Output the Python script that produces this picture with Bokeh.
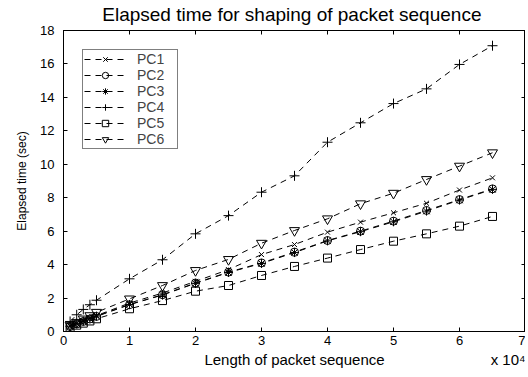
from bokeh.plotting import figure
from bokeh.models import (Range1d, FixedTicker, LinearAxis, Legend, LegendItem)
from bokeh.embed import file_html
from bokeh.resources import INLINE

# ---- data ----
lengths = [1000, 2000, 3000, 4000, 5000, 10000, 15000, 20000, 25000, 30000,
           35000, 40000, 45000, 50000, 55000, 60000, 65000]
pc1 = [0.35, 0.50, 0.65, 0.80, 0.95, 1.70, 2.30, 3.00, 3.70, 4.60, 5.20, 5.94, 6.54, 7.10, 7.67, 8.46, 9.19]
pc2 = [0.30, 0.45, 0.60, 0.75, 0.90, 1.60, 2.20, 2.90, 3.55, 4.10, 4.75, 5.44, 6.00, 6.60, 7.24, 7.89, 8.53]
pc3 = [0.32, 0.47, 0.62, 0.77, 0.92, 1.62, 2.18, 2.88, 3.53, 4.07, 4.72, 5.42, 5.97, 6.56, 7.20, 7.86, 8.50]
pc4 = [0.60, 1.00, 1.32, 1.60, 1.87, 3.15, 4.29, 5.84, 6.93, 8.33, 9.31, 11.32, 12.48, 13.63, 14.51, 15.97, 17.09]
pc5 = [0.25, 0.38, 0.50, 0.63, 0.76, 1.36, 1.85, 2.41, 2.75, 3.35, 3.89, 4.39, 4.90, 5.40, 5.84, 6.30, 6.88]
pc6 = [0.38, 0.55, 0.75, 0.95, 1.15, 1.95, 2.75, 3.65, 4.31, 5.28, 6.04, 6.74, 7.64, 8.27, 9.09, 9.89, 10.69]

series_names = ["PC1", "PC2", "PC3", "PC4", "PC5", "PC6"]
series_values = [pc1, pc2, pc3, pc4, pc5, pc6]
markers = ["x", "circle", "asterisk", "cross", "square", "inverted_triangle"]
marker_sizes = [7, 8, 9, 10, 8, 10]

x_ticks = [0, 10000, 20000, 30000, 40000, 50000, 60000, 70000]
x_tick_labels = ["0", "1", "2", "3", "4", "5", "6", "7"]
y_ticks = [0, 2, 4, 6, 8, 10, 12, 14, 16, 18]

title_text = "Elapsed time for shaping of packet  sequence"
x_label = "Length of packet sequence"
y_label = "Elapsed time (sec)"
exp_label = "x 10\u2074"
# where the axis-label line texts sit along the x axis
x_label_pos = 35000
exp_label_pos = 67700

FONT = "Liberation Sans"

p = figure(frame_width=462, frame_height=301, output_backend="svg",
           toolbar_location=None, x_range=Range1d(0, 70000), y_range=Range1d(0, 18),
           min_border_left=63, min_border_top=30, min_border_bottom=46, min_border_right=0)
p.background_fill_color = "white"
p.border_fill_color = "white"
p.outline_line_color = "black"
p.outline_line_width = 1
p.grid.visible = False

p.title.text = title_text
p.title.align = "center"
p.title.vertical_align = "top"
p.title.text_line_height = 1.0
p.title.text_font = FONT
p.title.text_font_size = "19px"
p.title.text_font_style = "normal"
p.title.text_color = "black"
p.title.standoff = 7
p.title.offset = 0

xt = FixedTicker(ticks=x_ticks)
yt = FixedTicker(ticks=y_ticks)

p.xaxis.ticker = xt
p.xaxis.major_label_overrides = {t: l for t, l in zip(x_ticks, x_tick_labels)}
p.yaxis.ticker = yt
for ax in (p.xaxis[0], p.yaxis[0]):
    ax.major_tick_in = 4
    ax.major_tick_out = 0
    ax.minor_tick_line_color = None
    ax.axis_line_color = "black"
    ax.major_tick_line_color = "black"
    ax.major_label_text_font = FONT
    ax.major_label_text_font_size = "13px"
    ax.major_label_text_color = "black"
    ax.axis_label_text_font = FONT
    ax.axis_label_text_font_style = "normal"
    ax.axis_label_text_color = "black"

p.xaxis.major_label_standoff = 4
p.yaxis.axis_label = y_label
p.yaxis.axis_label_text_font_size = "12px"
p.yaxis.major_label_standoff = 9
p.yaxis.axis_label_standoff = 8

# second line under the x axis: axis title and the x 10^4 multiplier
lab_ticks = [x_label_pos, exp_label_pos]
lab_axis = LinearAxis(ticker=FixedTicker(ticks=lab_ticks),
                      major_label_overrides={x_label_pos: x_label, exp_label_pos: exp_label},
                      major_tick_line_color=None, minor_tick_line_color=None,
                      axis_line_color=None, major_label_standoff=-3,
                      major_label_text_font=FONT, major_label_text_font_size="15px",
                      major_label_text_color="black")
p.add_layout(lab_axis, "below")

# box ticks on top and right (no labels)
top = LinearAxis(ticker=xt, major_tick_in=4, major_tick_out=0, minor_tick_line_color=None,
                 major_label_overrides={t: "" for t in x_ticks}, major_label_standoff=0)
right = LinearAxis(ticker=yt, major_tick_in=4, major_tick_out=0, minor_tick_line_color=None,
                   major_label_overrides={t: "" for t in y_ticks}, major_label_standoff=0)
p.add_layout(top, "above")
p.add_layout(right, "right")

items = []
for name, vals, mk, ms in zip(series_names, series_values, markers, marker_sizes):
    ln = p.line(lengths, vals, line_color="black", line_width=1, line_dash="6 5")
    sc = p.scatter(lengths, vals, marker=mk, size=ms, line_color="black", line_width=1,
                   fill_alpha=0)
    items.append(LegendItem(label=name, renderers=[ln, sc]))

legend = Legend(items=items, location=(19, 182), label_text_font=FONT,
                label_text_font_size="14px", glyph_width=42, glyph_height=16,
                label_height=16, label_width=39, spacing=0, padding=1, margin=0,
                label_standoff=11, border_line_color="black", border_line_width=1,
                background_fill_color="white", background_fill_alpha=1)
p.add_layout(legend)

open("out.html", "w").write(file_html(p, INLINE))
